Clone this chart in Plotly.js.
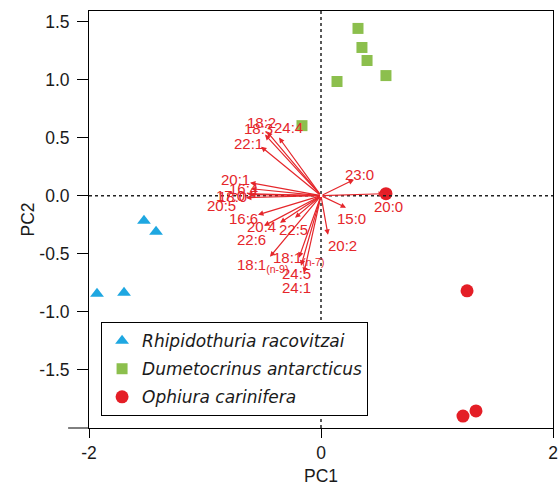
<!DOCTYPE html>
<html>
<head>
<meta charset="utf-8">
<script src="https://cdn.plot.ly/plotly-3.0.1.min.js"></script>
<style>html,body{margin:0;padding:0;background:#fff;}#chart{width:560px;height:490px;}</style>
</head>
<body>
<div id="chart"></div>
<script>
// Sample scores
const rhipX = [-1.526, -1.422, -1.931, -1.698];
const rhipY = [-0.216, -0.310, -0.845, -0.836];
const dumeX = [0.319, 0.353, 0.397, 0.560, 0.138, -0.164];
const dumeY = [1.440, 1.276, 1.164, 1.034, 0.983, 0.603];
const ophiX = [0.560, 1.259, 1.336, 1.224];
const ophiY = [0.017, -0.819, -1.853, -1.897];

// Fatty-acid loading vectors (arrow tips)
const faNames = ["18:2","18:3","24:4","22:1","20:1","16:4","17:0","18:0","20:5","16:6","22:6","20:4","22:5",
  "18:1<sub>(n-9)</sub>","18:1<sub>(n-7)</sub>","24:5","24:1","20:2","15:0","20:0","23:0"];
const faX = [-0.466,-0.483,-0.362,-0.517,-0.612,-0.603,-0.638,-0.612,-0.647,-0.543,-0.491,-0.353,-0.224,
  -0.440,-0.190,-0.172,-0.147,0.060,0.216,0.543,0.284];
const faY = [0.552,0.526,0.500,0.422,0.112,0.060,0.017,0.009,-0.017,-0.164,-0.259,-0.233,-0.190,
  -0.526,-0.534,-0.603,-0.664,-0.336,-0.103,0.017,0.138];
// Label anchor points (data units)
const labX = [-0.517,-0.543,-0.284,-0.629,-0.733,-0.664,-0.776,-0.760,-0.862,-0.672,-0.603,-0.509,-0.241,
  -0.508,-0.190,-0.207,-0.207,0.181,0.267,0.578,0.328];
const labY = [0.629,0.578,0.586,0.448,0.138,0.060,0.000,-0.010,-0.086,-0.198,-0.379,-0.267,-0.293,
  -0.600,-0.540,-0.672,-0.793,-0.431,-0.198,-0.095,0.181];

const speciesNames = ["Rhipidothuria racovitzai", "Dumetocrinus antarcticus", "Ophiura carinifera"];

const RED = '#e5262b';
const traces = [
  {x: rhipX, y: rhipY, name: speciesNames[0], mode: 'markers', type: 'scatter', legendgroup: 'a',
   marker: {symbol: 'triangle-up', size: 12, color: '#1ea7e1'}},
  {x: dumeX, y: dumeY, name: speciesNames[1], mode: 'markers', type: 'scatter', legendgroup: 'b',
   marker: {symbol: 'square', size: 11, color: '#8cbf4d'}},
  {x: ophiX, y: ophiY, name: speciesNames[2], mode: 'markers', type: 'scatter', legendgroup: 'c',
   marker: {symbol: 'circle', size: 13, color: '#e41e26'}}
];

const annotations = [];
faNames.forEach((n, i) => {
  annotations.push({x: faX[i], y: faY[i], ax: 0, ay: 0, axref: 'x', ayref: 'y', xref: 'x', yref: 'y',
    text: '', showarrow: true, arrowhead: 2, arrowsize: 0.9, arrowwidth: 1.2, arrowcolor: RED, standoff: 0});
});
faNames.forEach((n, i) => {
  annotations.push({x: labX[i], y: labY[i], xref: 'x', yref: 'y', text: n, showarrow: false,
    xanchor: 'center', yanchor: 'middle',
    font: {family: 'Liberation Sans, Arial, sans-serif', size: 15, color: RED}});
});

const tickFont = {family: 'Liberation Sans, Arial, sans-serif', size: 17.5, color: '#1a1a1a'};
const layout = {
  width: 560, height: 490,
  margin: {l: 89, r: 7, t: 11, b: 62},
  paper_bgcolor: '#fff', plot_bgcolor: '#fff',
  showlegend: true,
  legend: {x: 0.026, y: 0.254, xanchor: 'left', yanchor: 'top', bgcolor: '#fff',
    bordercolor: '#000', borderwidth: 1, tracegroupgap: 3,
    font: {family: 'DejaVu Sans, sans-serif', size: 17, style: 'italic', color: '#1a1a1a'}},
  xaxis: {range: [-2, 2], tickvals: [-2, 0, 2], ticktext: ['-2', '0', '2'], ticks: 'outside', ticklen: 9,
    tickcolor: '#000', showgrid: false, zeroline: false, showline: true, linecolor: '#000', mirror: true,
    tickfont: tickFont, title: {text: 'PC1', font: tickFont, standoff: 7}},
  yaxis: {range: [-2.0, 1.59], tickvals: [-1.5, -1, -0.5, 0, 0.5, 1, 1.5],
    ticktext: ['-1.5', '-1.0', '-0.5', '0.0', '0.5', '1.0', '1.5'], ticks: 'outside', ticklen: 11,
    tickcolor: '#000', showgrid: false, zeroline: false, showline: true, linecolor: '#000', mirror: true,
    tickfont: tickFont, ticklabelstandoff: 4, title: {text: 'PC2', font: tickFont, standoff: 0}},
  shapes: [
    {type: 'line', xref: 'x', yref: 'paper', x0: 0, x1: 0, y0: 0, y1: 1, line: {color: '#222', width: 1.5, dash: 'dot'}},
    {type: 'line', xref: 'paper', yref: 'y', x0: 0, x1: 1, y0: 0, y1: 0, line: {color: '#222', width: 1.5, dash: 'dot'}},
    {type: 'line', xref: 'paper', yref: 'paper', x0: -0.045, x1: 0, y0: 0, y1: 0, line: {color: '#000', width: 1}}
  ],
  annotations: annotations
};

Plotly.newPlot('chart', traces, layout, {displayModeBar: false, staticPlot: true});
</script>
</body>
</html>
